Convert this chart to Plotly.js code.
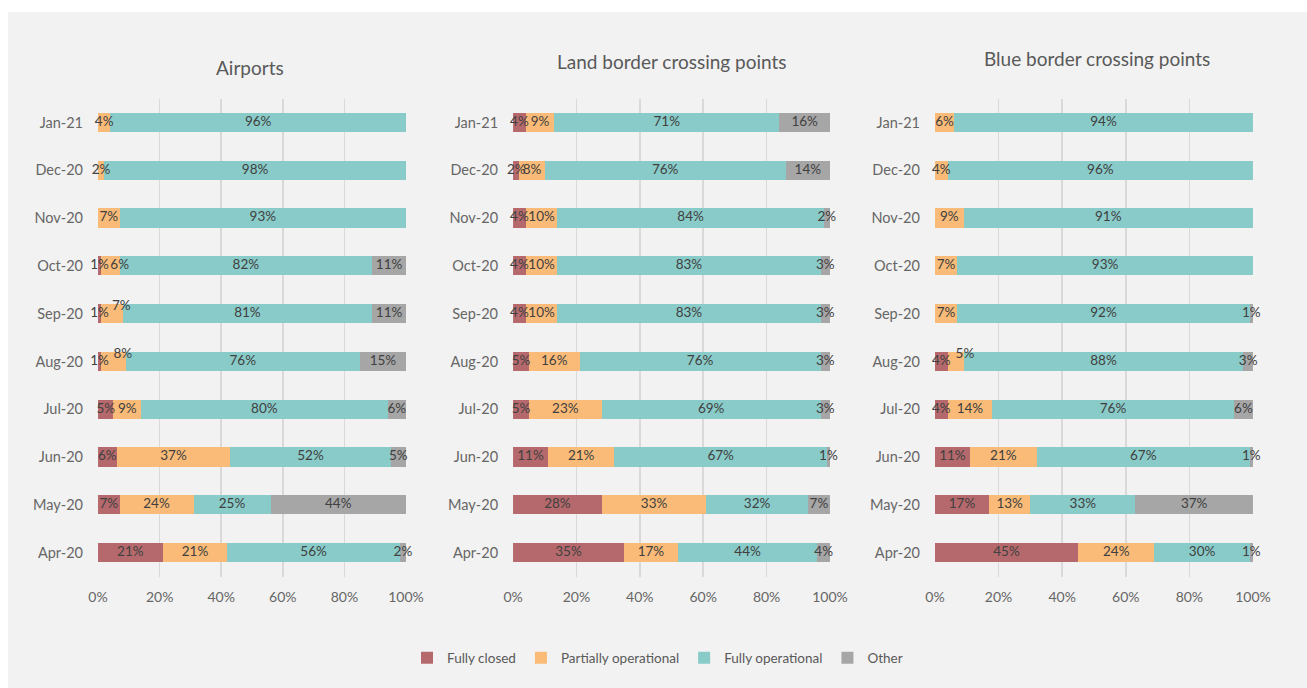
<!DOCTYPE html>
<html><head><meta charset="utf-8">
<script src="https://cdn.plot.ly/plotly-3.0.1.min.js"></script>
<style>html,body{margin:0;padding:0;background:#ffffff;} #chart{position:absolute;left:8px;top:12px;width:1299px;height:676px;}</style>
</head><body><div id="chart"></div>
<script>
const months = ['Apr-20','May-20','Jun-20','Jul-20','Aug-20','Sep-20','Oct-20','Nov-20','Dec-20','Jan-21'];
const seriesNames = ['Fully closed','Partially operational','Fully operational','Other'];
const panelTitles = ['Airports','Land border crossing points','Blue border crossing points'];
const tickValues = [0,20,40,60,80,100];
const tickLabels = ['0%','20%','40%','60%','80%','100%'];

// Airports (%)
const airportsClosed      = [21, 7, 6, 5, 1, 1, 1, 0, 0, 0];
const airportsPartial     = [21,24,37, 9, 8, 7, 6, 7, 2, 4];
const airportsOperational = [56,25,52,80,76,81,82,93,98,96];
const airportsOther       = [ 2,44, 5, 6,15,11,11, 0, 0, 0];
// Land border crossing points (%)
const landClosed      = [35,28,11, 5, 5, 4, 4, 4, 2, 4];
const landPartial     = [17,33,21,23,16,10,10,10, 8, 9];
const landOperational = [44,32,67,69,76,83,83,84,76,71];
const landOther       = [ 4, 7, 1, 3, 3, 3, 3, 2,14,16];
// Blue border crossing points (%)
const blueClosed      = [45,17,11, 4, 4, 0, 0, 0, 0, 0];
const bluePartial     = [24,13,21,14, 5, 7, 7, 9, 4, 6];
const blueOperational = [30,33,67,76,88,92,93,91,96,94];
const blueOther       = [ 1,37, 1, 6, 3, 1, 0, 0, 0, 0];

const panels = [
  [airportsClosed, airportsPartial, airportsOperational, airportsOther],
  [landClosed, landPartial, landOperational, landOther],
  [blueClosed, bluePartial, blueOperational, blueOther]
];

// style
const colors = ['#b6696c','#f9bb77','#89cbc8','#a6a6a6'];
// label placement tweaks (panel, series, month, textposition) mimicking the original's collision handling
const labelPlacement = [
  [0,1,'Aug-20','top right'],
  [0,1,'Sep-20','top right'],
  [0,1,'Oct-20','middle right'],
  [2,1,'Aug-20','top right']
];
const FONT = 'Lato, "Open Sans", sans-serif';
const xDomains = [[0.0693,0.3064],[0.3888,0.6328],[0.7136,0.9584]];
const yDomain = [0.1649,0.8720];
const titlePos = [[0.1863,0.9172],[0.5112,0.9275],[0.8383,0.9305]];

const traces = [];
const layout = {
  paper_bgcolor:'#f2f2f2', plot_bgcolor:'rgba(0,0,0,0)',
  margin:{l:0,r:0,t:0,b:0}, barmode:'stack', bargap:0.6,
  font:{family:FONT, color:'#595959', size:13},
  showlegend:true,
  legend:{orientation:'h', x:0.5, xanchor:'center', y:0.0444, yanchor:'middle',
          font:{family:FONT, size:13.5, color:'#595959'}, traceorder:'normal', itemwidth:30},
  annotations:[], width:1299, height:676
};

panels.forEach((series, p) => {
  const xa = p === 0 ? 'x' : 'x' + (p+1);
  const ya = p === 0 ? 'y' : 'y' + (p+1);
  const cum = months.map(() => 0);
  series.forEach((vals, s) => {
    traces.push({
      type:'bar', orientation:'h', x:vals, y:months, name:seriesNames[s],
      marker:{color:colors[s], line:{width:0}}, xaxis:xa, yaxis:ya,
      showlegend:p === 0, legendgroup:seriesNames[s], hoverinfo:'x+y+name'
    });
    const mids = vals.map((v,i) => cum[i] + v/2);
    const texts = vals.map(v => v > 0 ? v + '%' : '');
    const pos = months.map(m => {
      const hit = labelPlacement.find(l => l[0]===p && l[1]===s && l[2]===m);
      return hit ? hit[3] : 'middle center';
    });
    traces.push({
      type:'scatter', mode:'text', x:mids, y:months, text:texts, textposition:pos,
      textfont:{family:FONT, size:13.5, color:'#404040'}, xaxis:xa, yaxis:ya,
      showlegend:false, hoverinfo:'skip', cliponaxis:false
    });
    vals.forEach((v,i) => cum[i] += v);
  });
  const xkey = p === 0 ? 'xaxis' : 'xaxis' + (p+1);
  const ykey = p === 0 ? 'yaxis' : 'yaxis' + (p+1);
  layout[xkey] = {
    domain:xDomains[p], anchor:ya, range:[0,100], tickmode:'array', tickvals:tickValues, ticktext:tickLabels,
    showgrid:true, gridcolor:'#d9d9d9', gridwidth:1.5, zeroline:false, showline:false,
    ticks:'', ticklabelstandoff:10, tickfont:{family:FONT, size:14, color:'#666666'}, fixedrange:true
  };
  layout[ykey] = {
    domain:yDomain, anchor:xa, type:'category', categoryorder:'array', categoryarray:months,
    showgrid:false, zeroline:false, showline:false, ticks:'', ticklabelstandoff:14,
    tickfont:{family:FONT, size:14.5, color:'#666666'}, fixedrange:true
  };
  layout.annotations.push({
    text:panelTitles[p], xref:'paper', yref:'paper', x:titlePos[p][0], y:titlePos[p][1],
    xanchor:'center', yanchor:'middle', showarrow:false,
    font:{family:FONT, size:19, color:'#595959'}
  });
});

Plotly.newPlot('chart', traces, layout, {displayModeBar:false, staticPlot:true});
</script></body></html>
